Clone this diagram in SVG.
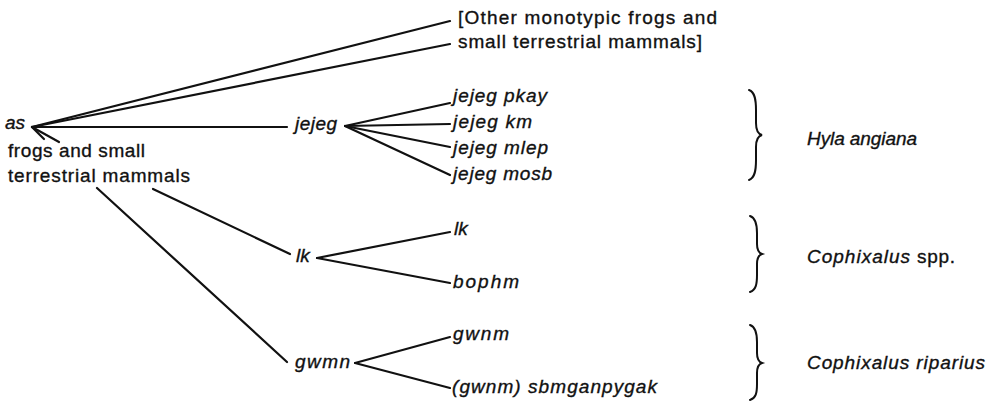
<svg xmlns="http://www.w3.org/2000/svg" width="994" height="402" viewBox="0 0 994 402">
  <style>
    text { font-family: "Liberation Sans", Arial, sans-serif; font-size: 19px; fill: #111; stroke: #111; stroke-width: 0.35; }
    .it { font-style: italic; }
    .ln { stroke: #111; stroke-width: 2.2; fill: none; stroke-linecap: round; }
    .br { stroke: #111; stroke-width: 2; fill: none; stroke-linecap: round; }
  </style>

  <!-- connectors of the taxonomy tree -->
  <g id="connectors" class="ln">
    <line x1="32" y1="127" x2="450" y2="21"/>
    <line x1="32" y1="127" x2="450" y2="44"/>
    <line x1="32" y1="127" x2="287" y2="127"/>
    <line x1="32" y1="127" x2="44" y2="139"/>
    <line x1="32" y1="127" x2="59" y2="142"/>
    <line x1="97" y1="188" x2="287" y2="362"/>
    <line x1="153" y1="189" x2="290" y2="254"/>
    <line x1="345" y1="126" x2="450" y2="103"/>
    <line x1="345" y1="126" x2="450" y2="124"/>
    <line x1="345" y1="126" x2="450" y2="147"/>
    <line x1="345" y1="126" x2="450" y2="175"/>
    <line x1="317" y1="258" x2="450" y2="232"/>
    <line x1="317" y1="258" x2="450" y2="283"/>
    <line x1="355" y1="363" x2="450" y2="337"/>
    <line x1="355" y1="363" x2="450" y2="388"/>
  </g>

  <g id="as">
    <text class="it" x="5" y="129">as</text>
    <text x="8" y="157" textLength="137" lengthAdjust="spacing">frogs and small</text>
    <text x="8" y="182" textLength="182" lengthAdjust="spacing">terrestrial mammals</text>
  </g>

  <g id="other">
    <text x="458" y="24" textLength="259" lengthAdjust="spacing">[Other monotypic frogs and</text>
    <text x="458" y="48" textLength="244" lengthAdjust="spacing">small terrestrial mammals]</text>
  </g>

  <g id="jejeg">
    <text class="it" x="295" y="130" textLength="42" lengthAdjust="spacing">jejeg</text>
  </g>
  <g id="jejeg-pkay"><text class="it" x="453" y="102" textLength="94" lengthAdjust="spacing">jejeg pkay</text></g>
  <g id="jejeg-km"><text class="it" x="453" y="128" textLength="79" lengthAdjust="spacing">jejeg km</text></g>
  <g id="jejeg-mlep"><text class="it" x="453" y="154" textLength="95" lengthAdjust="spacing">jejeg mlep</text></g>
  <g id="jejeg-mosb"><text class="it" x="453" y="180" textLength="99" lengthAdjust="spacing">jejeg mosb</text></g>

  <g id="lk">
    <text class="it" x="296" y="262">lk</text>
  </g>
  <g id="lk-leaf"><text class="it" x="454" y="235">lk</text></g>
  <g id="bophm"><text class="it" x="453" y="288" textLength="66" lengthAdjust="spacing">bophm</text></g>

  <g id="gwmn">
    <text class="it" x="295" y="368" textLength="55" lengthAdjust="spacing">gwmn</text>
  </g>
  <g id="gwnm"><text class="it" x="453" y="340" textLength="56" lengthAdjust="spacing">gwnm</text></g>
  <g id="gwnm-sbmganpygak"><text class="it" x="452" y="393" textLength="205" lengthAdjust="spacing">(gwnm) sbmganpygak</text></g>

  <!-- braces and species glosses -->
  <g id="hyla">
    <path class="br" d="M749 90 C755 92 756 100 756 110 L756 123 C756 130 758 134 762 135 C758 136 756 140 756 147 L756 160 C756 170 755 178 749 180"/>
    <text class="it" x="807" y="145" textLength="110" lengthAdjust="spacing">Hyla angiana</text>
  </g>
  <g id="cophixalus-spp">
    <path class="br" d="M750 216 C756 218 757 225 757 233 L757 244 C757 250 759 253 762 254 C759 255 757 258 757 264 L757 275 C757 284 756 290 750 292"/>
    <text class="it" x="807" y="263" textLength="103" lengthAdjust="spacing">Cophixalus</text>
    <text x="917" y="263" textLength="38" lengthAdjust="spacing">spp.</text>
  </g>
  <g id="cophixalus-riparius">
    <path class="br" d="M750 325 C756 327 757 334 757 342 L757 353 C757 359 759 362 762 363 C759 364 757 367 757 373 L757 384 C757 393 756 398 750 400"/>
    <text class="it" x="807" y="369" textLength="178" lengthAdjust="spacing">Cophixalus riparius</text>
  </g>
</svg>
